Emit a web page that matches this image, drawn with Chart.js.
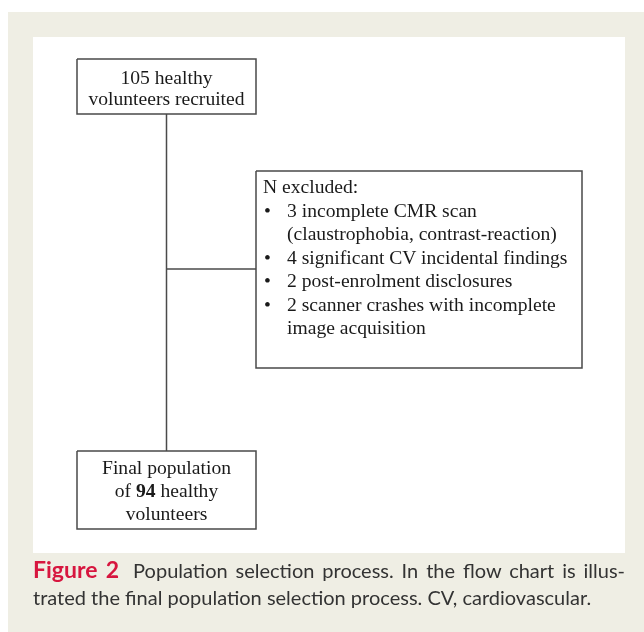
<!DOCTYPE html>
<html>
<head>
<meta charset="utf-8">
<script src="https://cdn.jsdelivr.net/npm/chart.js@4.4.1/dist/chart.umd.min.js"></script>
<style>
body{margin:0;background:#fff;width:644px;height:632px;overflow:hidden;position:relative}
#cream{position:absolute;left:8px;top:12px;width:636px;height:620px;background:#efeee4}
#panel{position:absolute;left:33px;top:37px;width:592px;height:516px;background:#fff}
canvas{position:absolute;left:0;top:0}
.t{position:absolute;font-family:"Liberation Serif","Times New Roman",serif;font-size:19.6px;color:#1a1a1a;white-space:nowrap}
.cap{position:absolute;left:33px;width:592px;font-family:Lato,"Open Sans",sans-serif;font-size:20px;line-height:24px;color:#333;white-space:nowrap}
.cap b{color:#d7163f;font-weight:700;font-size:23px;margin-right:6px}
</style>
</head>
<body>
<div id="cream"></div>
<div id="panel"></div>
<canvas id="c" width="644" height="632"></canvas>
<div id="txt"></div>
<script>
// numbers of the flow
const recruited = 105
const excludedCounts = [3, 4, 2, 2]
const excludedReasons = [
  ["incomplete CMR scan", "(claustrophobia, contrast-reaction)"],
  ["significant CV incidental findings"],
  ["post-enrolment disclosures"],
  ["scanner crashes with incomplete", "image acquisition"]
]
const finalN = recruited - excludedCounts.reduce((a, b) => a + b, 0)

// layout of boxes (page pixels)
const boxTop = {x0: 77, x1: 256, y0: 59, y1: 114}
const boxExcl = {x0: 256, x1: 582, y0: 171, y1: 368}
const boxFinal = {x0: 77, x1: 256, y0: 451, y1: 529}
const stemX = 166.5
const branchY = 269

function rect(b) {
  return [{x: b.x0, y: b.y0}, {x: b.x1, y: b.y0}, {x: b.x1, y: b.y1}, {x: b.x0, y: b.y1}, {x: b.x0, y: b.y0}]
}
const lineStyle = {showLine: true, pointRadius: 0, borderColor: "#4a4a4a", borderWidth: 1.5, fill: false, tension: 0}

new Chart(document.getElementById("c"), {
  type: "scatter",
  data: {
    datasets: [
      Object.assign({data: rect(boxTop)}, lineStyle),
      Object.assign({data: rect(boxExcl)}, lineStyle),
      Object.assign({data: rect(boxFinal)}, lineStyle),
      Object.assign({data: [{x: stemX, y: boxTop.y1}, {x: stemX, y: boxFinal.y0}]}, lineStyle),
      Object.assign({data: [{x: stemX, y: branchY}, {x: boxExcl.x0, y: branchY}]}, lineStyle)
    ]
  },
  options: {
    responsive: false,
    animation: false,
    layout: {padding: 0},
    plugins: {legend: {display: false}, tooltip: {enabled: false}},
    scales: {
      x: {type: "linear", min: 0, max: 644, display: false},
      y: {type: "linear", min: 0, max: 632, reverse: true, display: false}
    }
  }
})

// text in boxes
const txt = document.getElementById("txt")
function put(html, cx, cy, lh, align) {
  let d = document.createElement("div")
  d.className = "t"
  d.innerHTML = html
  d.style.lineHeight = lh + "px"
  d.style.top = (cy - lh / 2) + "px"
  if (align == "center") {
    d.style.left = (cx - 150) + "px"
    d.style.width = "300px"
    d.style.textAlign = "center"
  } else {
    d.style.left = cx + "px"
  }
  txt.appendChild(d)
}
let cxTop = (boxTop.x0 + boxTop.x1) / 2
put(recruited + " healthy", cxTop, 77, 21, "center")
put("volunteers recruited", cxTop, 98, 21, "center")

let cxFin = (boxFinal.x0 + boxFinal.x1) / 2
put("Final population", cxFin, 467, 23, "center")
put("of <b>" + finalN + "</b> healthy", cxFin, 490, 23, "center")
put("volunteers", cxFin, 513, 23, "center")

let y = 187
put("N excluded:", 263, y, 23.5)
excludedCounts.forEach((n, i) => {
  excludedReasons[i].forEach((line, j) => {
    y += 23.5
    if (j == 0) {
      put("&bull;", 264, y, 23.5)
      put(n + " " + line, 287, y, 23.5)
    } else {
      put(line, 287, y, 23.5)
    }
  })
})
</script>
<div class="cap" style="top:557px;text-align:justify;text-align-last:justify"><b>Figure 2</b> Population selection process. In the flow chart is illus-</div>
<div class="cap" style="top:585px">trated the final population selection process. CV, cardiovascular.</div>
</body>
</html>
